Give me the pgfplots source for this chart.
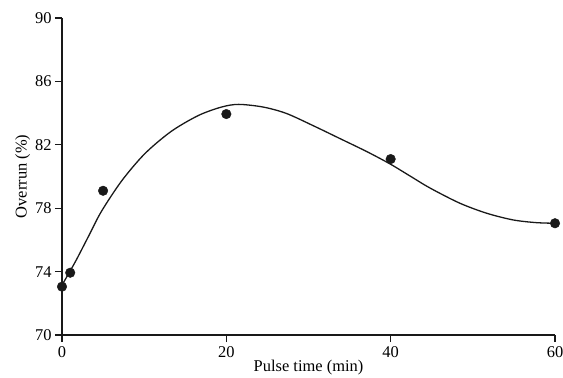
\documentclass[border=0pt]{standalone}
\usepackage{pgfplots}
\pgfplotsset{compat=1.18}
\usepackage{fontspec}
\setmainfont{Liberation Serif}
\begin{document}
\begin{tikzpicture}[x=1bp,y=1bp]
\useasboundingbox (-62,-42) rectangle (501,335);
\begin{axis}[
  at={(0,0)}, anchor=south west,
  scale only axis, width=493bp, height=317bp,
  xmin=0, xmax=60, ymin=70, ymax=90,
  axis lines=left,
  axis line style={-, line width=1.4pt, color=black!90},
  xtick={0,20,40,60}, ytick={70,74,78,82,86,90},
  tick style={line width=1.3pt, color=black!90},
  tick align=outside, major tick length=7bp,
  every tick label/.style={font=\fontsize{16.5}{18}\selectfont},
  /pgf/number format/assume math mode=true,
  xticklabel style={yshift=-1bp},
  label style={font=\fontsize{16.5}{18}\selectfont},
  xlabel={Pulse time (min)},
  ylabel={Overrun (\%)},
  xlabel style={yshift=4bp},
  ylabel style={yshift=-2bp},
  clip=false,
]
\addplot[line width=1.3pt, black!90, smooth] coordinates {
(0,73.15) (1.6,74.6) (3.2,76.2) (4.8,77.8) (7.3,79.75) (10.1,81.45)
(13.3,82.85) (16.6,83.85) (19.4,84.38) (21.5,84.55) (24.5,84.38)
(27.3,83.98) (30.6,83.2) (33.8,82.4) (37.1,81.57) (39.9,80.8)
(42.3,80.05) (44.8,79.27) (48.4,78.32) (51.7,77.68) (54.9,77.26)
(57.7,77.09) (60,77.05)
};
\addplot[only marks, mark=*, mark size=4.8bp, black!90] coordinates {
(0,73.05) (1,73.93) (5,79.1) (20,83.94) (40,81.1) (60,77.05)
};
\end{axis}
\end{tikzpicture}
\end{document}
